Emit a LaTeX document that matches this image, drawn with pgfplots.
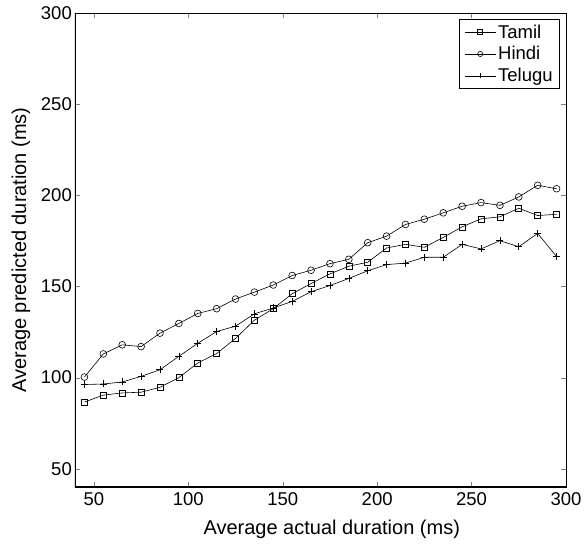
\documentclass[border=0pt]{standalone}
\usepackage{fontspec}
\setmainfont{Liberation Sans}
\usepackage{pgfplots}
\pgfplotsset{compat=1.18}
\begin{document}
\begin{tikzpicture}
\begin{axis}[
  name=ax,
  scale only axis,
  width=491pt, height=474pt,
  xmin=40, xmax=300, ymin=40, ymax=300,
  xtick={50,100,150,200,250,300},
  ytick={50,100,150,200,250,300},
  tick align=inside,
  major tick length=5pt,
  /pgf/number format/assume math mode=true,
  tick label style={font=\fontsize{18.5}{20}\selectfont},
  xticklabel style={inner sep=0pt, yshift=-5pt},
  yticklabel style={inner sep=0pt, xshift=-3pt},
  label style={font=\fontsize{20}{22}\selectfont},
  xlabel={Average actual duration (ms)},
  ylabel={Average predicted duration (ms)},
  xlabel style={at={(axis description cs:0.523,0)}, anchor=center, yshift=-42pt},
  ylabel style={at={(axis description cs:0,0.5)}, anchor=center, yshift=54pt},
  axis line style={line width=0.5pt},
  legend style={font=\fontsize{18.5}{20}\selectfont, draw=black, line width=0.9pt, inner xsep=5pt, inner ysep=3pt, row sep=3pt, at={(0.988,0.987)}, anchor=north east},
  legend cell align=left,
  legend image code/.code={\draw[mark repeat=2,mark phase=2, mark size=2.6pt] plot coordinates {(0cm,0cm) (0.55cm,0cm) (1.1cm,0cm)};},
  every axis plot/.append style={black, line width=0.6pt},
]
\addplot[mark=square, mark size=3pt, mark options={line width=0.6pt}] coordinates {
(45,86.6)(55,90.4)(65,91.6)(75,92)(85,94.7)(95,100)(105,108)(115,113.2)(125,121.5)
(135,131.5)(145,137.8)(155,146)(165,151.6)(175,156.9)(185,161.1)(195,163.3)(205,171.1)
(215,173.1)(225,171.5)(235,176.9)(245,182.7)(255,187.1)(265,188.2)(275,192.9)(285,188.9)(295,189.6)};
\addlegendentry{Tamil}
\addplot[mark=o, mark size=3.4pt, mark options={line width=0.6pt}] coordinates {
(45,100.3)(55,113)(65,118)(75,117)(85,124.4)(95,129.7)(105,135.2)(115,137.8)(125,143.1)
(135,146.9)(145,150.8)(155,156)(165,158.9)(175,162.5)(185,164.9)(195,174)(205,177.6)
(215,184)(225,186.9)(235,190.4)(245,194)(255,196)(265,194.5)(275,199.1)(285,205.5)(295,203.6)};
\addlegendentry{Hindi}
\addplot[mark=+, mark size=3.5pt, mark options={line width=0.6pt}] coordinates {
(45,96.2)(55,96.5)(65,97.6)(75,100.7)(85,104.3)(95,111.7)(105,118.8)(115,125.3)(125,128.2)
(135,135)(145,138.2)(155,141.8)(165,147.1)(175,150.5)(185,154.4)(195,158.6)(205,162)
(215,162.8)(225,166)(235,166)(245,173.1)(255,170.6)(265,175.1)(275,171.8)(285,179.1)(295,166.4)};
\addlegendentry{Telugu}
\draw[line width=1.3pt] (rel axis cs:0,1) -- (rel axis cs:0,0) -- (rel axis cs:1,0);
\end{axis}
\pgfresetboundingbox
\path[use as bounding box] ([shift={(-75pt,-57pt)}]ax.south west) rectangle ([shift={(18pt,13pt)}]ax.north east);
\end{tikzpicture}
\end{document}
